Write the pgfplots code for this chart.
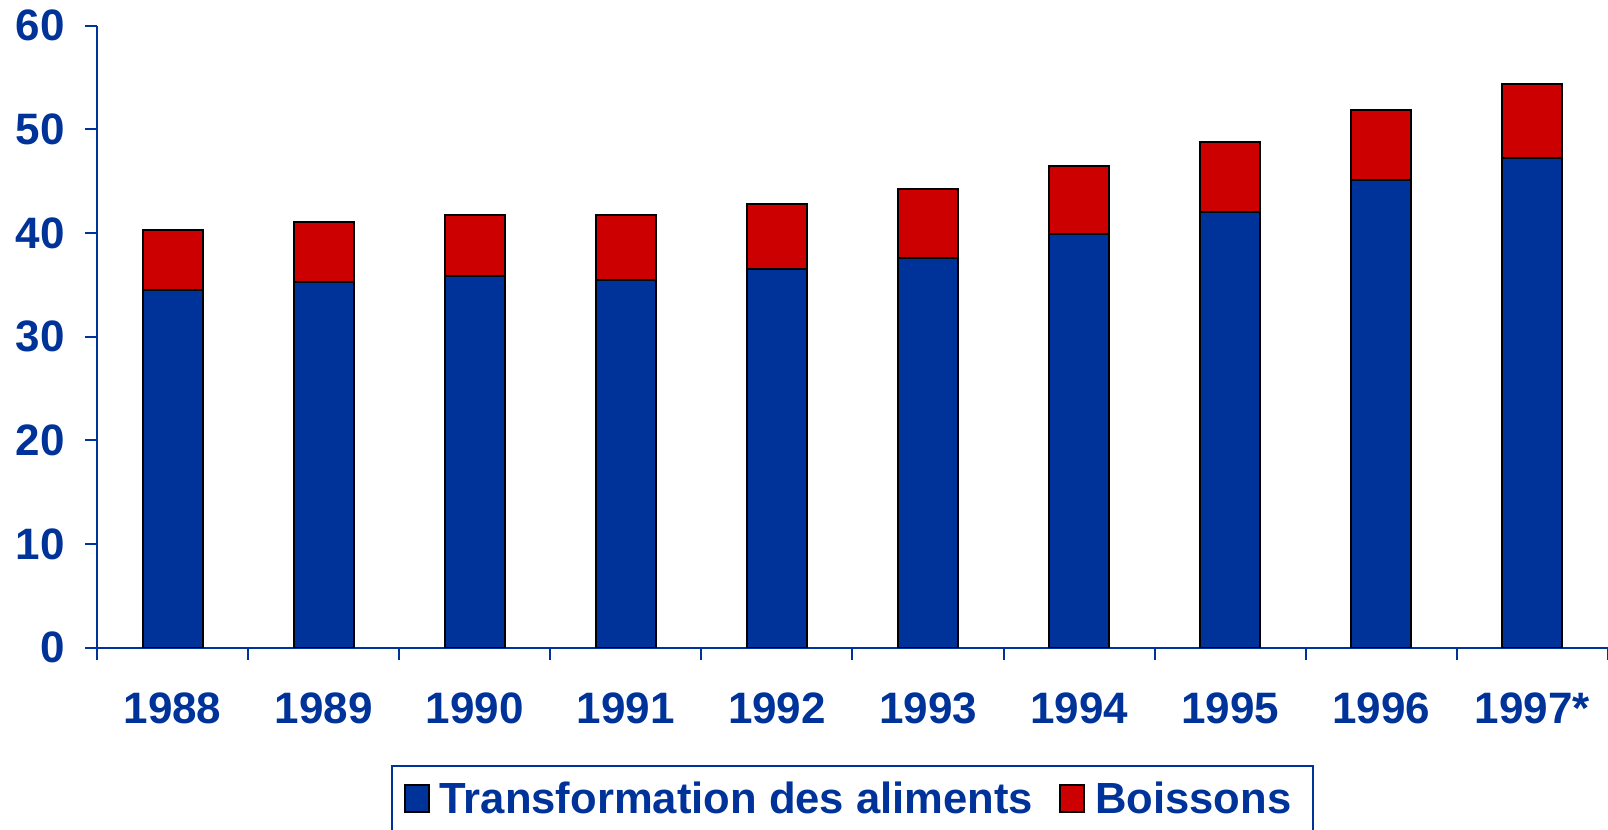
\documentclass[border=0pt]{standalone}
\usepackage{pgfplots}
\pgfplotsset{compat=1.18}
\usepackage{fontspec}
\setmainfont{Liberation Sans}
\definecolor{myblue}{HTML}{003399}
\definecolor{myred}{HTML}{CC0000}
\begin{document}
\begin{tikzpicture}
\useasboundingbox (-48.5pt,-91.15pt) rectangle (755.5pt,323.85pt);
\begin{axis}[
  at={(0,0)}, anchor=south west,
  scale only axis,
  width=755.5pt, height=311pt,
  ybar stacked, bar width=30pt,
  xmin=-0.5, xmax=9.5, ymin=0, ymax=60,
  ytick={0,10,...,60},
  xtick={0,...,9},
  xticklabels={1988,1989,1990,1991,1992,1993,1994,1995,1996,1997*},
  minor xtick={-0.5,0.5,...,9.5},
  axis lines*=left,
  axis line style={draw=myblue, line width=1pt},
  tick style={draw=myblue, line width=1pt},
  tick align=outside,
  major tick length=6pt,
  minor tick length=6pt,
  major x tick style={draw=none},
  /pgf/number format/assume math mode=true,
  tick label style={font=\bfseries\fontsize{22}{26}\selectfont, text=myblue},
  xticklabel style={yshift=-12.8pt},
  yticklabel style={xshift=-6.5pt},
  legend columns=2,
  legend style={at={(0.5,0)}, anchor=north, yshift=-58.65pt, draw=myblue, line width=1pt,
    font=\bfseries\fontsize{21.8}{26}\selectfont, text=myblue, inner xsep=6pt, inner ysep=6pt,
    /tikz/every even column/.append style={column sep=8pt},
    nodes={inner xsep=5pt}},
  legend image code/.code={\draw[#1, draw=black, line width=1pt] (0pt,-6.5pt) rectangle (12pt,7pt);},
]
\addplot[fill=myblue, draw=black, line width=1pt] coordinates {
 (0,34.5) (1,35.3) (2,35.9) (3,35.5) (4,36.5) (5,37.6) (6,39.9) (7,42.0) (8,45.1) (9,47.2)};
\addplot[fill=myred, draw=black, line width=1pt] coordinates {
 (0,5.8) (1,5.8) (2,5.8) (3,6.2) (4,6.3) (5,6.6) (6,6.6) (7,6.8) (8,6.8) (9,7.2)};
\legend{Transformation des aliments, Boissons}
\end{axis}
\end{tikzpicture}
\end{document}
